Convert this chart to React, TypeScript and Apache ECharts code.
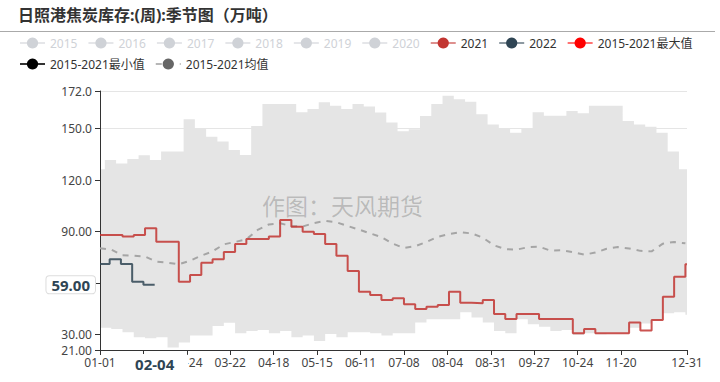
import React, { useEffect, useRef } from 'react';
import * as echarts from 'echarts';

// ---- categories: daily MM-DD of a leap year ----
const MONTH_DAYS = [31, 29, 31, 30, 31, 30, 31, 31, 30, 31, 30, 31];
const categories: string[] = [];
MONTH_DAYS.forEach((n, m) => {
  for (let d = 1; d <= n; d++) {
    categories.push(`${String(m + 1).padStart(2, '0')}-${String(d).padStart(2, '0')}`);
  }
});

const TITLE = '日照港焦炭库存:(周):季节图（万吨）';
const WATERMARK = '作图：天风期货';
const hiddenYears = ['2015', '2016', '2017', '2018', '2019', '2020'];
const NAME_2021 = '2021';
const NAME_2022 = '2022';
const NAME_MAX = '2015-2021最大值';
const NAME_MIN = '2015-2021最小值';
const NAME_MEAN = '2015-2021均值';

// weekly values (one per week)
const maxStartValue = 126.4;
const maxWeekly = [
  131.8, 129.8, 132.4, 134.5, 131.8, 136.7, 136.7, 155.5, 150.3, 145.4, 142.5, 137.6, 134.7,
  151.6, 164.4, 164.4, 164.4, 159.6, 161.5, 165.4, 163.4, 161.5, 164.4, 162.9, 159.4, 153.6,
  148.5, 149.7, 157.4, 164.4, 169.3, 167.2, 165.8, 158.4, 152.5, 149.9, 147.7, 150.3, 159.6,
  157.6, 157.6, 160.4, 159.0, 163.4, 163.4, 163.4, 154.5, 152.5, 151.2, 147.7, 136.7, 126.4,
];
const minWeekly = [
  34.0, 33.2, 31.3, 28.4, 27.8, 28.4, 22.4, 25.3, 29.4, 29.4, 35.0, 36.9, 30.7, 32.1, 32.7,
  30.7, 32.1, 28.4, 29.4, 26.2, 30.3, 28.4, 31.3, 31.3, 30.7, 29.4, 30.7, 30.7, 37.1, 38.9,
  38.9, 38.9, 43.0, 39.9, 37.1, 32.1, 30.7, 38.9, 36.0, 34.5, 32.1, 32.7, 29.7, 30.7, 30.2,
  30.7, 30.7, 34.0, 36.5, 38.3, 42.4, 43.0, 41.5,
];
const meanWeekly = [
  80.3, 79.5, 76.2, 76.0, 75.5, 72.5, 71.9, 71.0, 73.0, 76.0, 78.5, 82.6, 84.0, 85.5, 91.0,
  94.2, 94.9, 93.2, 93.0, 95.0, 96.3, 95.5, 93.3, 91.2, 89.0, 86.8, 83.0, 80.5, 81.5, 84.0,
  87.0, 88.6, 89.6, 89.0, 86.5, 82.0, 79.8, 79.5, 80.9, 81.2, 79.0, 79.1, 78.0, 76.6, 77.8,
  80.0, 81.0, 80.2, 78.8, 78.5, 83.0, 84.0, 83.2,
];
const y2021Weekly = [
  88.1, 88.1, 87.1, 88.1, 92.0, 84.1, 84.1, 60.8, 64.7, 71.9, 73.9, 78.1, 82.8, 85.7, 85.7,
  87.1, 96.8, 92.9, 90.0, 88.6, 82.8, 76.0, 67.1, 55.0, 53.1, 50.2, 51.1, 47.6, 44.9, 46.2,
  47.2, 55.0, 48.6, 48.2, 50.2, 42.0, 39.1, 42.0, 42.0, 39.1, 39.1, 39.1, 30.7, 33.2, 30.7,
  30.7, 30.7, 37.1, 32.3, 38.5, 52.1, 63.7, 71.0,
];
const y2022Dates = ['01-01', '01-07', '01-14', '01-21', '01-28', '02-04'];
const y2022Values = [71.1, 73.9, 71.1, 60.8, 59.0, 59.0];

const POINTER_DATE = '02-04';
const POINTER_VALUE = 59.0;

const WEEK = 7;
const lastIdx = categories.length - 1;
const weekly = (values: number[], offset: number) =>
  values.map((v, k) => [offset + WEEK * k, v]);

const maxData = [[0, maxStartValue], ...weekly(maxWeekly, 3), [lastIdx, maxWeekly[maxWeekly.length - 1]]];
const minData = [...weekly(minWeekly, 0), [lastIdx, minWeekly[minWeekly.length - 1]]];
const meanData = weekly(meanWeekly, 0);
const data2021 = [...weekly(y2021Weekly, 0), [lastIdx, y2021Weekly[y2021Weekly.length - 1]]];
const data2022 = y2022Dates.map((d, i) => [categories.indexOf(d), y2022Values[i]]);

const FONT = "'Noto Sans', 'Noto Sans CJK SC', sans-serif";

export default function App() {
  const ref = useRef<HTMLDivElement>(null);
  useEffect(() => {
    document.body.style.margin = '0';
    if (!ref.current) return;
    const chart = echarts.init(ref.current, null, { renderer: 'svg' });
    const labelIdx = (i: number) => (i % 27 === 0 && i <= 330) || i === lastIdx;
    const legendSel: Record<string, boolean> = {};
    hiddenYears.forEach((y) => (legendSel[y] = false));
    const lineBase = { type: 'line', symbol: 'circle', symbolSize: 6, showSymbol: false, silent: true };
    chart.setOption({
      animation: false,
      textStyle: { fontFamily: FONT },
      title: {
        text: TITLE,
        left: 13,
        top: 2,
        textStyle: { fontSize: 16, fontWeight: 'bold', color: '#333', fontFamily: FONT },
      },
      legend: [
        {
          left: 14,
          top: 32,
          itemGap: 10,
          itemWidth: 25,
          itemHeight: 14,
          textStyle: { fontSize: 12, color: '#333' },
          lineStyle: { width: 2, opacity: 0.55 },
          selected: legendSel,
          data: [...hiddenYears, NAME_2021, NAME_2022, NAME_MAX],
        },
        {
          left: 14,
          top: 53,
          itemGap: 10,
          itemWidth: 25,
          itemHeight: 14,
          textStyle: { fontSize: 12, color: '#333' },
          lineStyle: { width: 2, opacity: 0.8 },
          data: [NAME_MIN, NAME_MEAN],
        },
      ],
      grid: { left: 100, right: 33, top: 91, bottom: 32 },
      xAxis: {
        type: 'category',
        data: categories,
        boundaryGap: false,
        z: 3,
        axisLine: { lineStyle: { color: '#333' } },
        axisTick: { interval: labelIdx, length: 5, lineStyle: { color: '#333' } },
        axisLabel: { interval: labelIdx, color: '#444', fontSize: 12, margin: 6 },
        splitLine: { show: false },
        axisPointer: {
          show: true,
          type: 'line',
          value: categories.indexOf(POINTER_DATE),
          status: 'show',
          snap: true,
          lineStyle: { opacity: 0 },
          label: {
            show: true,
            backgroundColor: '#fff',
            color: '#2f4554',
            fontWeight: 'bold',
            fontSize: 15,
            padding: [2, 14],
            margin: 4,
          },
        },
      },
      yAxis: {
        type: 'value',
        min: 21,
        max: 172,
        z: 3,
        axisLine: { show: true, lineStyle: { color: '#333' } },
        axisTick: { show: true, length: 5, lineStyle: { color: '#333' } },
        axisLabel: { color: '#444', fontSize: 12, formatter: (v: number) => v.toPrecision(4) },
        splitLine: { show: true, lineStyle: { color: 'rgba(0,0,0,0.1)' } },
        axisPointer: {
          show: true,
          type: 'line',
          value: POINTER_VALUE,
          status: 'show',
          lineStyle: { opacity: 0 },
          label: {
            show: true,
            formatter: (p: any) => Number(p.value).toFixed(2),
            backgroundColor: '#fff',
            borderColor: '#ddd',
            borderWidth: 1,
            color: '#2f4554',
            fontWeight: 'bold',
            fontSize: 15,
            padding: [1, 5],
            margin: 5,
          },
        },
      },
      graphic: [
        {
          type: 'line',
          shape: { x1: 0, y1: 31.5, x2: 715, y2: 31.5 },
          style: { stroke: '#aaa', lineWidth: 1 },
          silent: true,
        },
        {
          type: 'text',
          left: 262,
          top: 193,
          z: 100,
          silent: true,
          style: { text: WATERMARK, fontSize: 23, fill: 'rgba(0,0,0,0.2)', fontFamily: "'Noto Sans CJK SC', sans-serif" },
        },
      ],
      series: [
        ...hiddenYears.map((y) => ({ ...lineBase, name: y, data: [], itemStyle: { color: '#ccc' } })),
        {
          ...lineBase,
          name: NAME_MAX,
          step: 'end',
          data: maxData,
          itemStyle: { color: '#ff0000' },
          lineStyle: { width: 0, opacity: 0 },
          areaStyle: { color: '#e5e5e5', opacity: 1, origin: 'start' },
        },
        {
          ...lineBase,
          name: NAME_MIN,
          step: 'end',
          data: minData,
          itemStyle: { color: '#000' },
          lineStyle: { width: 0, opacity: 0 },
          areaStyle: { color: '#fff', opacity: 1, origin: 'start' },
        },
        {
          ...lineBase,
          name: NAME_MEAN,
          data: meanData,
          itemStyle: { color: '#666' },
          lineStyle: { color: '#a5a5a5', width: 2, type: [6, 6] },
        },
        {
          ...lineBase,
          name: NAME_2021,
          step: 'end',
          data: data2021,
          itemStyle: { color: '#c23531' },
          lineStyle: { width: 2, opacity: 0.85 },
        },
        {
          ...lineBase,
          name: NAME_2022,
          step: 'end',
          data: data2022,
          itemStyle: { color: '#2f4554' },
          lineStyle: { width: 2, opacity: 0.85 },
        },
      ],
    });
    return () => chart.dispose();
  }, []);
  return <div ref={ref} style={{ width: 720, height: 382 }} />;
}
